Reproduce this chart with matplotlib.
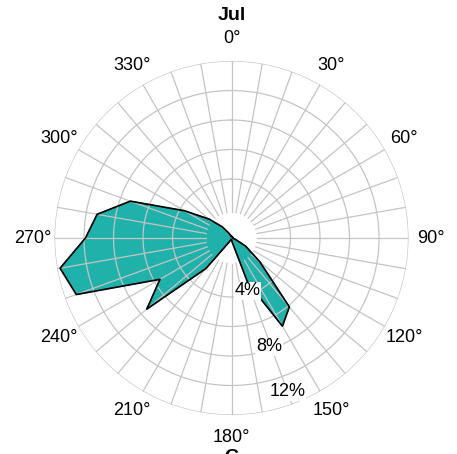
import numpy as np
import matplotlib
matplotlib.use('Agg')
import matplotlib.pyplot as plt

# wind direction bins (degrees) and frequency (%) for July
directions = list(range(0, 360, 10))
frequency = [0.1, 0.1, 0.1, 0.1, 0.1, 0.1, 0.1, 0.1, 0.1, 0.1, 0.1, 0.3,
             1.1, 2.5, 6.1, 6.9, 3.2, 0.3, 0.1, 0.1, 0.1, 0.3, 2.7, 7.5,
             5.6, 11.2, 11.8, 9.9, 9.25, 7.3, 3.7, 2.0, 1.0, 0.4, 0.2, 0.1]
ring_values = [4, 6, 8, 10, 12]
ring_labels = ['4%', '8%', '12%']
angle_ticks = list(range(0, 360, 30))
title = 'Jul'

plt.rcParams['font.family'] = ['Liberation Sans', 'DejaVu Sans']

fig = plt.figure(figsize=(4.57, 4.54), dpi=100)
ax = fig.add_axes([0.1193, 0.0859, 0.7746, 0.7797], projection='polar')
ax.set_theta_zero_location('N')
ax.set_theta_direction(-1)
ax.set_ylim(0, 12)
ax.grid(False)
ax.set_xticks([])
ax.set_yticks([])
ax.spines['polar'].set_visible(False)
ax.patch.set_alpha(0)

# the rose polygon
theta = np.deg2rad(directions + [directions[0]])
vals = frequency + [frequency[0]]
ax.fill(theta, vals, color='#20b2aa', zorder=2)
ax.plot(theta, vals, color='black', lw=1.2, zorder=4)

# grid drawn over the polygon, leaving a hole in the middle
hole = 1.75
grid_col = '#c4c4c4'
for d in directions:
    t = np.deg2rad(d)
    ax.plot([t, t], [hole, 12], color=grid_col, lw=0.9, zorder=3)
circ = np.linspace(0, 2 * np.pi, 361)
for rv in ring_values:
    ax.plot(circ, np.full_like(circ, rv), color=grid_col, lw=0.9, zorder=3)

# angle labels
for a in angle_ticks:
    ax.text(np.deg2rad(a), 13.5, '%d°' % a, ha='center', va='center',
            fontsize=13, clip_on=False)

# ring labels
for lab, r, a in zip(ring_labels, [3.75, 7.8, 11.1], [163, 161, 160]):
    ax.text(np.deg2rad(a), r, lab, ha='center', va='center', fontsize=13,
            zorder=5, bbox=dict(facecolor='white', edgecolor='none', pad=0.5))

fig.text(0.507, 0.966, title, ha='center', va='center', fontsize=14,
         fontweight='bold')
fig.text(0.505, -0.008, 'C', ha='center', va='center', fontsize=14,
         fontweight='bold')

fig.savefig('out.png', dpi=100)
